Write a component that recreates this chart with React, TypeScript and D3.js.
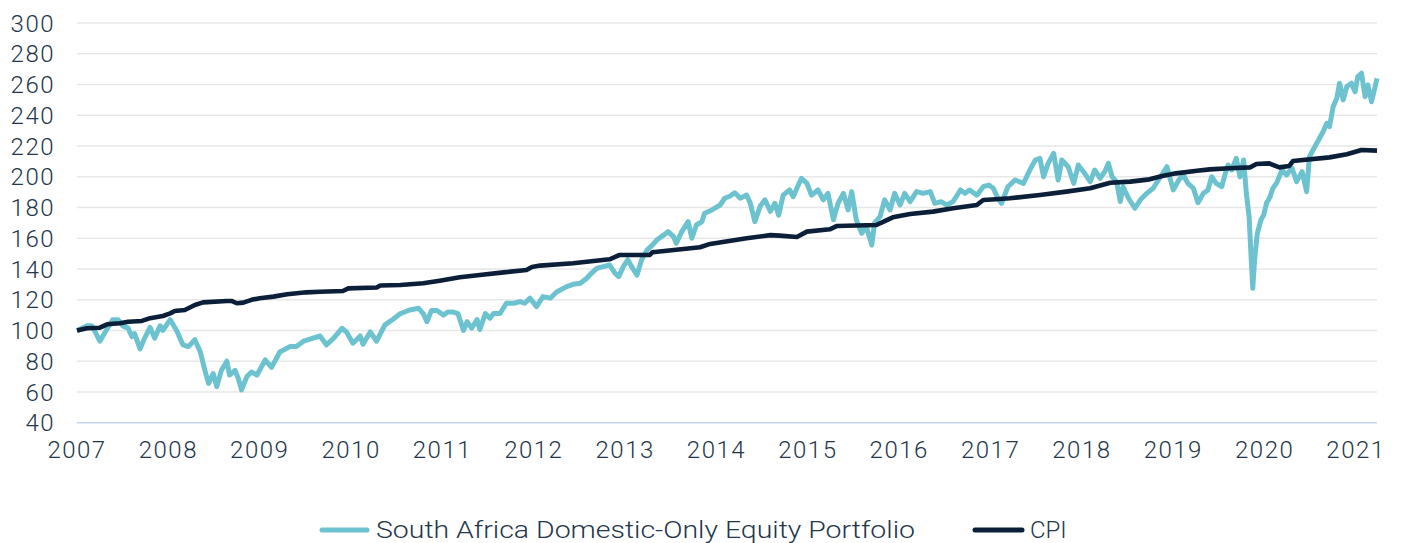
import React from "react";
import * as d3 from "d3";

// x positions are decimal years on the chart's year axis
const yearTicks = [2007, 2008, 2009, 2010, 2011, 2012, 2013, 2014, 2015, 2016, 2017, 2018, 2019, 2020, 2021];
const valueTicks = [40, 60, 80, 100, 120, 140, 160, 180, 200, 220, 240, 260, 280, 300];

const seriesNames = ["South Africa Domestic-Only Equity Portfolio", "CPI"];

const equity: [number, number][] = [
  [2007.00, 100], [2007.11, 103], [2007.16, 103], [2007.20, 99], [2007.25, 93], [2007.31, 99],
  [2007.39, 107], [2007.45, 107], [2007.50, 103], [2007.56, 101.5], [2007.60, 96], [2007.63, 98],
  [2007.69, 88], [2007.74, 95], [2007.80, 102], [2007.85, 95], [2007.91, 103], [2007.94, 100],
  [2008.02, 107], [2008.09, 100], [2008.16, 90.6], [2008.22, 89.5], [2008.29, 94], [2008.35, 86],
  [2008.40, 74], [2008.44, 65.6], [2008.49, 72], [2008.53, 63.5], [2008.58, 74], [2008.64, 80],
  [2008.67, 71], [2008.73, 74], [2008.77, 68], [2008.80, 61.3], [2008.86, 70], [2008.91, 73],
  [2008.97, 71], [2009.06, 80.8], [2009.13, 76], [2009.22, 86], [2009.33, 89.5], [2009.40, 89.5],
  [2009.48, 93], [2009.55, 94.3], [2009.66, 96.4], [2009.73, 90.6], [2009.81, 95], [2009.90, 101.4],
  [2009.95, 99], [2010.02, 91.7], [2010.10, 96.4], [2010.13, 91], [2010.21, 99], [2010.28, 93],
  [2010.37, 103.6], [2010.46, 107.3], [2010.54, 111], [2010.64, 113.3], [2010.74, 114.4], [2010.79, 111],
  [2010.83, 105.7], [2010.88, 113], [2010.94, 113], [2011.01, 110], [2011.06, 112], [2011.12, 112],
  [2011.17, 111], [2011.23, 100], [2011.27, 105.7], [2011.32, 101.5], [2011.38, 107], [2011.41, 100.6],
  [2011.47, 111], [2011.52, 108], [2011.56, 111], [2011.63, 111], [2011.70, 117.7], [2011.78, 117.7],
  [2011.85, 118.8], [2011.90, 117.7], [2011.96, 121], [2012.03, 115.5], [2012.10, 122], [2012.18, 121],
  [2012.25, 125], [2012.36, 128.5], [2012.43, 130], [2012.51, 130.7], [2012.58, 134], [2012.63, 137.2],
  [2012.69, 140.4], [2012.76, 141.5], [2012.83, 142.6], [2012.89, 137.2], [2012.93, 135], [2012.98, 141.5],
  [2013.03, 146], [2013.07, 141.5], [2013.13, 136], [2013.18, 146], [2013.24, 152.4], [2013.29, 155],
  [2013.35, 159], [2013.42, 162], [2013.47, 164.3], [2013.53, 161], [2013.56, 156.7], [2013.62, 164.3],
  [2013.69, 170.8], [2013.73, 160], [2013.78, 168.6], [2013.84, 170.8], [2013.87, 176.2], [2013.95, 178.4],
  [2014.04, 181.6], [2014.09, 186], [2014.15, 187.5], [2014.20, 189.6], [2014.26, 186], [2014.33, 188.1],
  [2014.37, 182.7], [2014.42, 170.8], [2014.48, 181], [2014.53, 185], [2014.59, 177.5], [2014.64, 182.7],
  [2014.68, 175], [2014.73, 188], [2014.80, 191.4], [2014.84, 187], [2014.88, 192.5], [2014.93, 199],
  [2014.99, 195.7], [2015.04, 188], [2015.11, 191.4], [2015.17, 185], [2015.22, 189.2], [2015.28, 172],
  [2015.33, 182.7], [2015.39, 189.2], [2015.44, 178.4], [2015.48, 190.3], [2015.53, 172], [2015.59, 163.2],
  [2015.64, 167.5], [2015.70, 155.6], [2015.73, 170], [2015.79, 174], [2015.84, 185], [2015.90, 178.4],
  [2015.95, 189.2], [2016.01, 181.6], [2016.06, 189.2], [2016.12, 183.8], [2016.19, 190.3], [2016.26, 189.2],
  [2016.34, 190.3], [2016.39, 182.7], [2016.46, 183.8], [2016.52, 181.6], [2016.59, 183.8], [2016.67, 191.4],
  [2016.72, 189.2], [2016.77, 191.4], [2016.85, 188], [2016.92, 193.5], [2016.98, 194.6], [2017.03, 192.5],
  [2017.08, 186], [2017.12, 182.7], [2017.19, 193.5], [2017.27, 197.9], [2017.36, 195.7], [2017.43, 204.4],
  [2017.49, 210.9], [2017.54, 212], [2017.58, 200], [2017.63, 208.7], [2017.69, 215.2], [2017.74, 197.9],
  [2017.78, 210.9], [2017.85, 206.5], [2017.91, 195.7], [2017.96, 207.6], [2018.03, 202.2], [2018.09, 196.8],
  [2018.14, 204.4], [2018.20, 199], [2018.25, 203.3], [2018.29, 208.7], [2018.33, 200], [2018.38, 196.8],
  [2018.42, 183.8], [2018.45, 193.5], [2018.51, 186], [2018.58, 179.5], [2018.64, 185], [2018.71, 189.2],
  [2018.78, 192.5], [2018.85, 199], [2018.93, 206.5], [2019.00, 191.4], [2019.06, 197.9], [2019.11, 201.1],
  [2019.16, 195.7], [2019.22, 192.5], [2019.27, 183.1], [2019.33, 189.2], [2019.38, 191.4], [2019.42, 200],
  [2019.47, 195.7], [2019.53, 193.5], [2019.57, 202.2], [2019.60, 207.6], [2019.64, 204.4], [2019.69, 212],
  [2019.73, 200], [2019.77, 210.9], [2019.80, 189.2], [2019.83, 174], [2019.85, 150.2], [2019.87, 127.4],
  [2019.89, 146], [2019.92, 163.2], [2019.96, 172], [2019.99, 175.1], [2020.02, 182.7], [2020.06, 187],
  [2020.09, 192.5], [2020.13, 195.7], [2020.19, 204.4], [2020.24, 201.1], [2020.30, 205.5], [2020.35, 196.8],
  [2020.41, 203.3], [2020.46, 190.3], [2020.49, 213], [2020.53, 217.4], [2020.59, 223.9], [2020.64, 229.3],
  [2020.68, 234.8], [2020.71, 232.6], [2020.75, 245.6], [2020.79, 251], [2020.82, 260.8], [2020.86, 250],
  [2020.90, 258.7], [2020.95, 260.8], [2020.99, 255.3], [2021.02, 265.1], [2021.06, 267.3], [2021.10, 252.1],
  [2021.13, 259.7], [2021.17, 248.8], [2021.21, 258.7], [2021.23, 264],
];

const cpi: [number, number][] = [
  [2007.00, 100], [2007.11, 101.4], [2007.25, 101.8], [2007.33, 104], [2007.47, 104.7], [2007.56, 105.7],
  [2007.71, 106.2], [2007.80, 108], [2007.94, 109.4], [2008.02, 111.1], [2008.07, 112.7], [2008.18, 113.3],
  [2008.29, 116.6], [2008.38, 118.3], [2008.64, 119.2], [2008.69, 119.2], [2008.75, 117.7], [2008.82, 118.1],
  [2008.91, 119.9], [2009.00, 121], [2009.15, 122], [2009.30, 123.5], [2009.51, 124.8], [2009.66, 125.2],
  [2009.91, 125.7], [2009.97, 127.4], [2010.28, 127.9], [2010.32, 129.2], [2010.54, 129.6], [2010.79, 130.7],
  [2010.97, 132.4], [2011.19, 134.6], [2011.41, 136.1], [2011.67, 137.8], [2011.92, 139.3], [2011.98, 141.3],
  [2012.07, 142.2], [2012.43, 143.7], [2012.83, 146.3], [2012.94, 149.1], [2013.27, 149.1], [2013.30, 150.9],
  [2013.82, 154.1], [2013.93, 156.3], [2014.33, 160], [2014.59, 162], [2014.69, 161.7], [2014.88, 160.8],
  [2014.99, 164.3], [2015.24, 165.8], [2015.32, 168], [2015.75, 168.6], [2015.83, 170.8], [2015.93, 173.6],
  [2016.12, 175.8], [2016.37, 177.3], [2016.59, 179.5], [2016.85, 181.6], [2016.92, 184.9], [2017.10, 185.5],
  [2017.21, 186], [2017.54, 188.1], [2017.83, 190.3], [2018.09, 192.5], [2018.31, 196.1], [2018.53, 196.8],
  [2018.74, 198.3], [2018.88, 200.5], [2019.03, 202.2], [2019.26, 203.9], [2019.40, 204.8], [2019.61, 205.5],
  [2019.84, 206.1], [2019.91, 208.3], [2020.05, 208.7], [2020.16, 206.1], [2020.27, 207], [2020.31, 210.2],
  [2020.71, 212.6], [2020.90, 214.6], [2021.06, 217.4], [2021.23, 217],
];

const W = 1403;
const H = 543;
const FONT = "Roboto, 'Open Sans', sans-serif";
const TEXT = "#23364a";
const TEAL = "#6cc3cf";
const NAVY = "#0b1f38";

export default function App() {
  const lastDate = equity[equity.length - 1][0];
  const x = d3.scaleLinear().domain([yearTicks[0], lastDate]).range([77, 1377]);
  const y = d3.scaleLinear().domain([40, 300]).range([422.7, 23]);
  const line = d3
    .line<[number, number]>()
    .x((d) => x(d[0]))
    .y((d) => y(d[1]))
    .curve(d3.curveLinear);

  const [x0, x1] = x.range();

  return (
    <svg
      width={W}
      height={H}
      viewBox={`0 0 ${W} ${H}`}
      style={{ position: "absolute", left: 0, top: 0, background: "#fff" }}
      fontFamily={FONT}
    >
      {valueTicks.map((t) => (
        <line
          key={"g" + t}
          x1={x0}
          x2={x1}
          y1={y(t)}
          y2={y(t)}
          stroke={t === 40 ? "#c3d7ec" : "#e7e7e7"}
          strokeWidth={1.6}
        />
      ))}
      {valueTicks.map((t) => (
        <text
          key={"yl" + t}
          x={55}
          y={y(t)}
          dy="0.36em"
          textAnchor="end"
          fontSize={24}
          fontWeight={300}
          letterSpacing={1.5}
          fill={TEXT}
        >
          {t}
        </text>
      ))}
      {yearTicks.map((t) => (
        <text
          key={"xl" + t}
          x={x(t)}
          y={458}
          textAnchor="middle"
          fontSize={24}
          fontWeight={300}
          letterSpacing={1.5}
          fill={TEXT}
        >
          {t}
        </text>
      ))}
      <path d={line(equity) || ""} fill="none" stroke={TEAL} strokeWidth={5} strokeLinejoin="round" />
      <path d={line(cpi) || ""} fill="none" stroke={NAVY} strokeWidth={4.6} strokeLinejoin="round" />

      <g>
        <line x1={322} x2={367} y1={530} y2={530} stroke={TEAL} strokeWidth={5} strokeLinecap="round" />
        <text x={376} y={538} fontSize={24} fontWeight={300} fill={TEXT} textLength={539} lengthAdjust="spacingAndGlyphs">
          {seriesNames[0]}
        </text>
        <line x1={975} x2={1022} y1={530} y2={530} stroke={NAVY} strokeWidth={5} strokeLinecap="round" />
        <text x={1030} y={538} fontSize={24} fontWeight={300} fill={TEXT}>
          {seriesNames[1]}
        </text>
      </g>
    </svg>
  );
}
